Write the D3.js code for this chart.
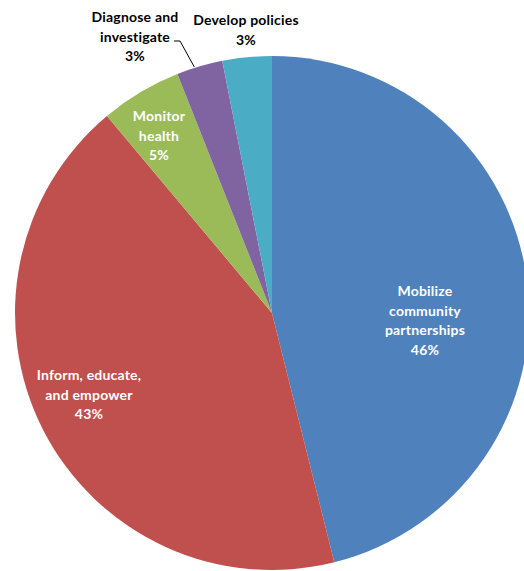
<!DOCTYPE html>
<html><head><meta charset="utf-8">
<script src="https://cdn.jsdelivr.net/npm/d3@7"></script>
<style>body{margin:0;background:#fff}svg{display:block}</style>
</head><body>
<svg id="c" width="524" height="571"></svg>
<script>
const categories = ["Mobilize community partnerships","Inform, educate, and empower","Monitor health","Diagnose and investigate","Develop policies"];
const values = [46.1, 42.8, 5.1, 2.9, 3.1];
const pctLabels = ["46%","43%","5%","3%","3%"];
const labelLines = [["Mobilize","community","partnerships"],["Inform, educate,","and empower"],["Monitor","health"],["Diagnose and","investigate"],["Develop policies"]];
const colors = ["#4F81BD","#C0504D","#9BBB59","#8064A2","#4BACC6"];

const svg = d3.select("#c");
const cx = 272, cy = 313, R = 257;
const g = svg.append("g").attr("transform", `translate(${cx},${cy})`);
const pie = d3.pie().sort(null).value(d => d);
const arcs = pie(values);
const arc = d3.arc().innerRadius(0).outerRadius(R);
g.selectAll("path").data(arcs).enter().append("path")
  .attr("d", arc).attr("fill", (d,i) => colors[i]);

// label layout (absolute centers of first line)
const layout = [
  {x:425, y:291, fill:"#fff"},
  {x:89, y:375, fill:"#fff"},
  {x:159, y:116, fill:"#fff"},
  {x:135, y:17, fill:"#000"},
  {x:246, y:20, fill:"#000"}
];
const lh = 19.7;
categories.forEach((c,i) => {
  const L = layout[i];
  const lines = labelLines[i].concat([pctLabels[i]]);
  const t = svg.append("text").attr("text-anchor","middle")
    .attr("font-family","Lato, 'Open Sans', sans-serif").attr("font-weight","bold")
    .attr("font-size", 14).attr("letter-spacing", 0.2).attr("fill", L.fill);
  lines.forEach((ln,j) => {
    t.append("tspan").attr("x", L.x).attr("y", L.y + j*lh).attr("dy","0.35em").text(ln);
  });
});
// leader line for Diagnose
const a3 = arcs[3];
const mid = (a3.startAngle + a3.endAngle)/2 - 0.02;
const ex = cx + Math.sin(mid)*(R+1), ey = cy - Math.cos(mid)*(R+1);
svg.append("path").attr("d", `M174,41 L180,41 L${ex},${ey}`)
  .attr("fill","none").attr("stroke","#000").attr("stroke-width",1);
</script>
</body></html>
